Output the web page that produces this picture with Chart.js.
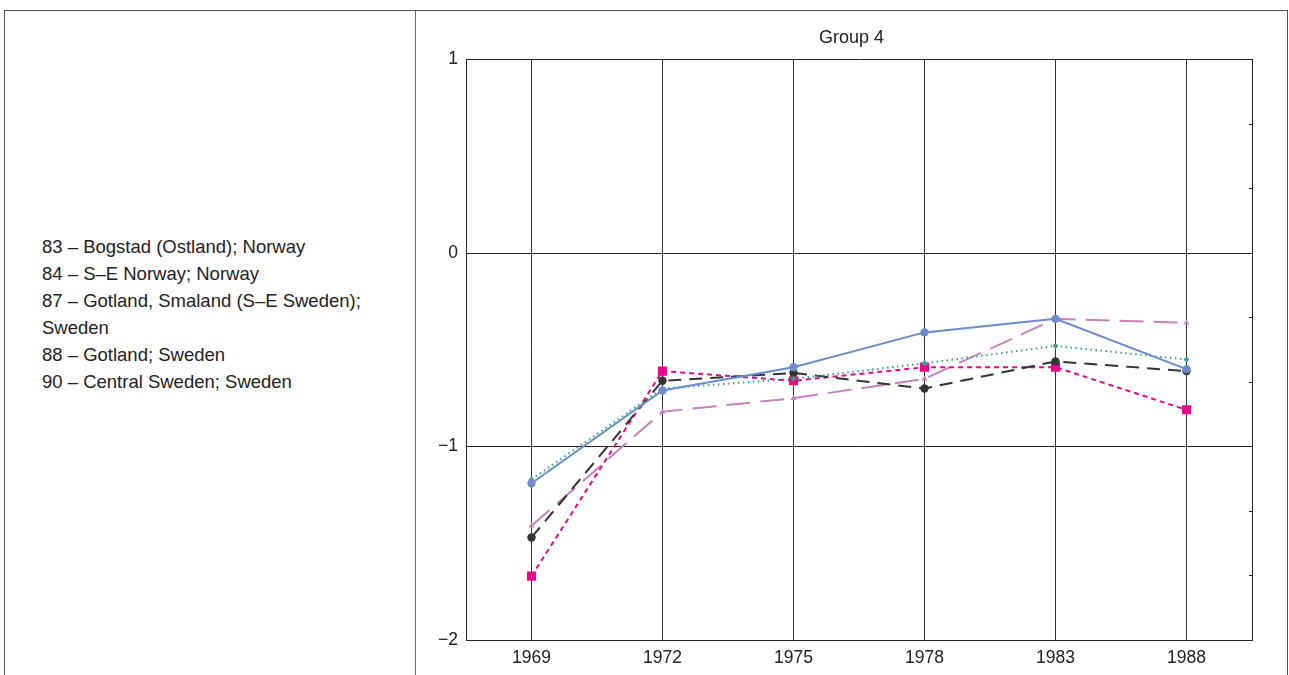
<!DOCTYPE html>
<html>
<head>
<meta charset="utf-8">
<script src="https://cdn.jsdelivr.net/npm/chart.js@4.4.1/dist/chart.umd.min.js"></script>
<style>
  html, body { margin: 0; padding: 0; background: #fff; }
  body { width: 1289px; height: 675px; overflow: hidden; position: relative; font-family: "Liberation Sans", Arial, sans-serif; }
  #frame { position: absolute; left: 4px; top: 10px; width: 1284px; height: 700px; border: 1px solid #555; box-sizing: border-box; }
  #divider { position: absolute; left: 415px; top: 11px; width: 1px; height: 670px; background: #666; }
  #legend { position: absolute; left: 42px; top: 233px; width: 345px; font-size: 18.5px; line-height: 27px; color: #222; }
  #wrap { position: absolute; left: 416px; top: 11px; width: 871px; height: 664px; }
</style>
</head>
<body>
<div id="frame"></div>
<div id="divider"></div>
<div id="legend"></div>
<div id="wrap"><canvas id="groupChart"></canvas></div>
<script>
  // data
  const years = ['1969', '1972', '1975', '1978', '1983', '1988'];
  const siteNames = [
    '83 \u2013 Bogstad (Ostland); Norway',
    '84 \u2013 S\u2013E Norway; Norway',
    '87 \u2013 Gotland, Smaland (S\u2013E Sweden); Sweden',
    '88 \u2013 Gotland; Sweden',
    '90 \u2013 Central Sweden; Sweden'
  ];
  const site83 = [-1.19, -0.71, -0.59, -0.41, -0.34, -0.60];
  const site84 = [-1.17, -0.70, -0.65, -0.57, -0.48, -0.55];
  const site87 = [-1.47, -0.66, -0.62, -0.70, -0.56, -0.61];
  const site88 = [-1.67, -0.61, -0.66, -0.59, -0.59, -0.81];
  const site90 = [-1.41, -0.82, -0.75, -0.65, -0.34, -0.36];
  const yTicks = [1, 0, -1, -2];

  document.getElementById('legend').innerHTML = siteNames.map(function(n) { return '<div>' + n + '</div>'; }).join('');

  const minus = function(v) { return String(v).replace('-', '\u2212'); };

  new Chart(document.getElementById('groupChart'), {
    type: 'line',
    data: {
      labels: years,
      datasets: [
        {
          label: siteNames[0],
          data: site83,
          borderColor: '#6a8cca',
          backgroundColor: '#6a8cca',
          borderWidth: 2,
          pointStyle: 'circle',
          pointRadius: 4.2,
          pointBorderWidth: 0
        },
        {
          label: siteNames[1],
          data: site84,
          borderColor: '#3b9e8c',
          backgroundColor: '#3b9e8c',
          borderWidth: 2,
          borderDash: [1.5, 3.5],
          pointStyle: 'rectRot',
          pointRadius: 3,
          pointBorderWidth: 0
        },
        {
          label: siteNames[2],
          data: site87,
          borderColor: '#333333',
          backgroundColor: '#333333',
          borderWidth: 2,
          borderDash: [13, 8],
          pointStyle: 'circle',
          pointRadius: 4.2,
          pointBorderWidth: 0
        },
        {
          label: siteNames[3],
          data: site88,
          borderColor: '#e8068c',
          backgroundColor: '#e8068c',
          borderWidth: 2,
          borderDash: [5, 4],
          pointStyle: 'rect',
          pointRadius: 6.5,
          pointBorderWidth: 0
        },
        {
          label: siteNames[4],
          data: site90,
          borderColor: '#c980c0',
          backgroundColor: '#c980c0',
          borderWidth: 2,
          borderDash: [24, 10],
          pointStyle: 'triangle',
          pointRadius: 3.5,
          pointBorderWidth: 0
        }
      ]
    },
    options: {
      responsive: true,
      maintainAspectRatio: false,
      animation: false,
      layout: { padding: 0 },
      elements: { line: { tension: 0 } },
      plugins: {
        legend: { display: false },
        tooltip: { enabled: false },
        title: {
          display: true,
          text: 'Group 4',
          color: '#222',
          font: { family: 'Liberation Sans', size: 18, weight: 'normal' },
          padding: { top: 16, bottom: 11 }
        }
      },
      scales: {
        x: {
          offset: true,
          grid: { color: '#333', lineWidth: 1, drawTicks: false, offset: false },
          border: { color: '#222', width: 1 },
          ticks: { color: '#222', padding: 8, font: { family: 'Liberation Sans', size: 17.5 } },
          afterFit: function(s) { s.height = 35; }
        },
        y: {
          min: -2,
          max: 1,
          afterBuildTicks: function(s) { s.ticks = yTicks.map(function(v) { return { value: v }; }); },
          grid: { color: '#222', lineWidth: 1, drawTicks: false },
          border: { color: '#222', width: 1 },
          ticks: { color: '#222', padding: 8, font: { family: 'Liberation Sans', size: 17.5 }, callback: minus },
          afterFit: function(s) { s.width = 50; }
        },
        y2: {
          position: 'right',
          min: -2,
          max: 1,
          afterBuildTicks: function(s) {
            s.ticks = [2, 1, 0, -1, -2, -3, -4, -5, -6].map(function(k) { return { value: k / 3 }; });
          },
          grid: { drawOnChartArea: false, drawTicks: true, tickLength: -3, color: '#222' },
          border: { color: '#222', width: 1 },
          ticks: { display: false },
          afterFit: function(s) { s.width = 35; }
        }
      }
    }
  });
</script>
</body>
</html>
